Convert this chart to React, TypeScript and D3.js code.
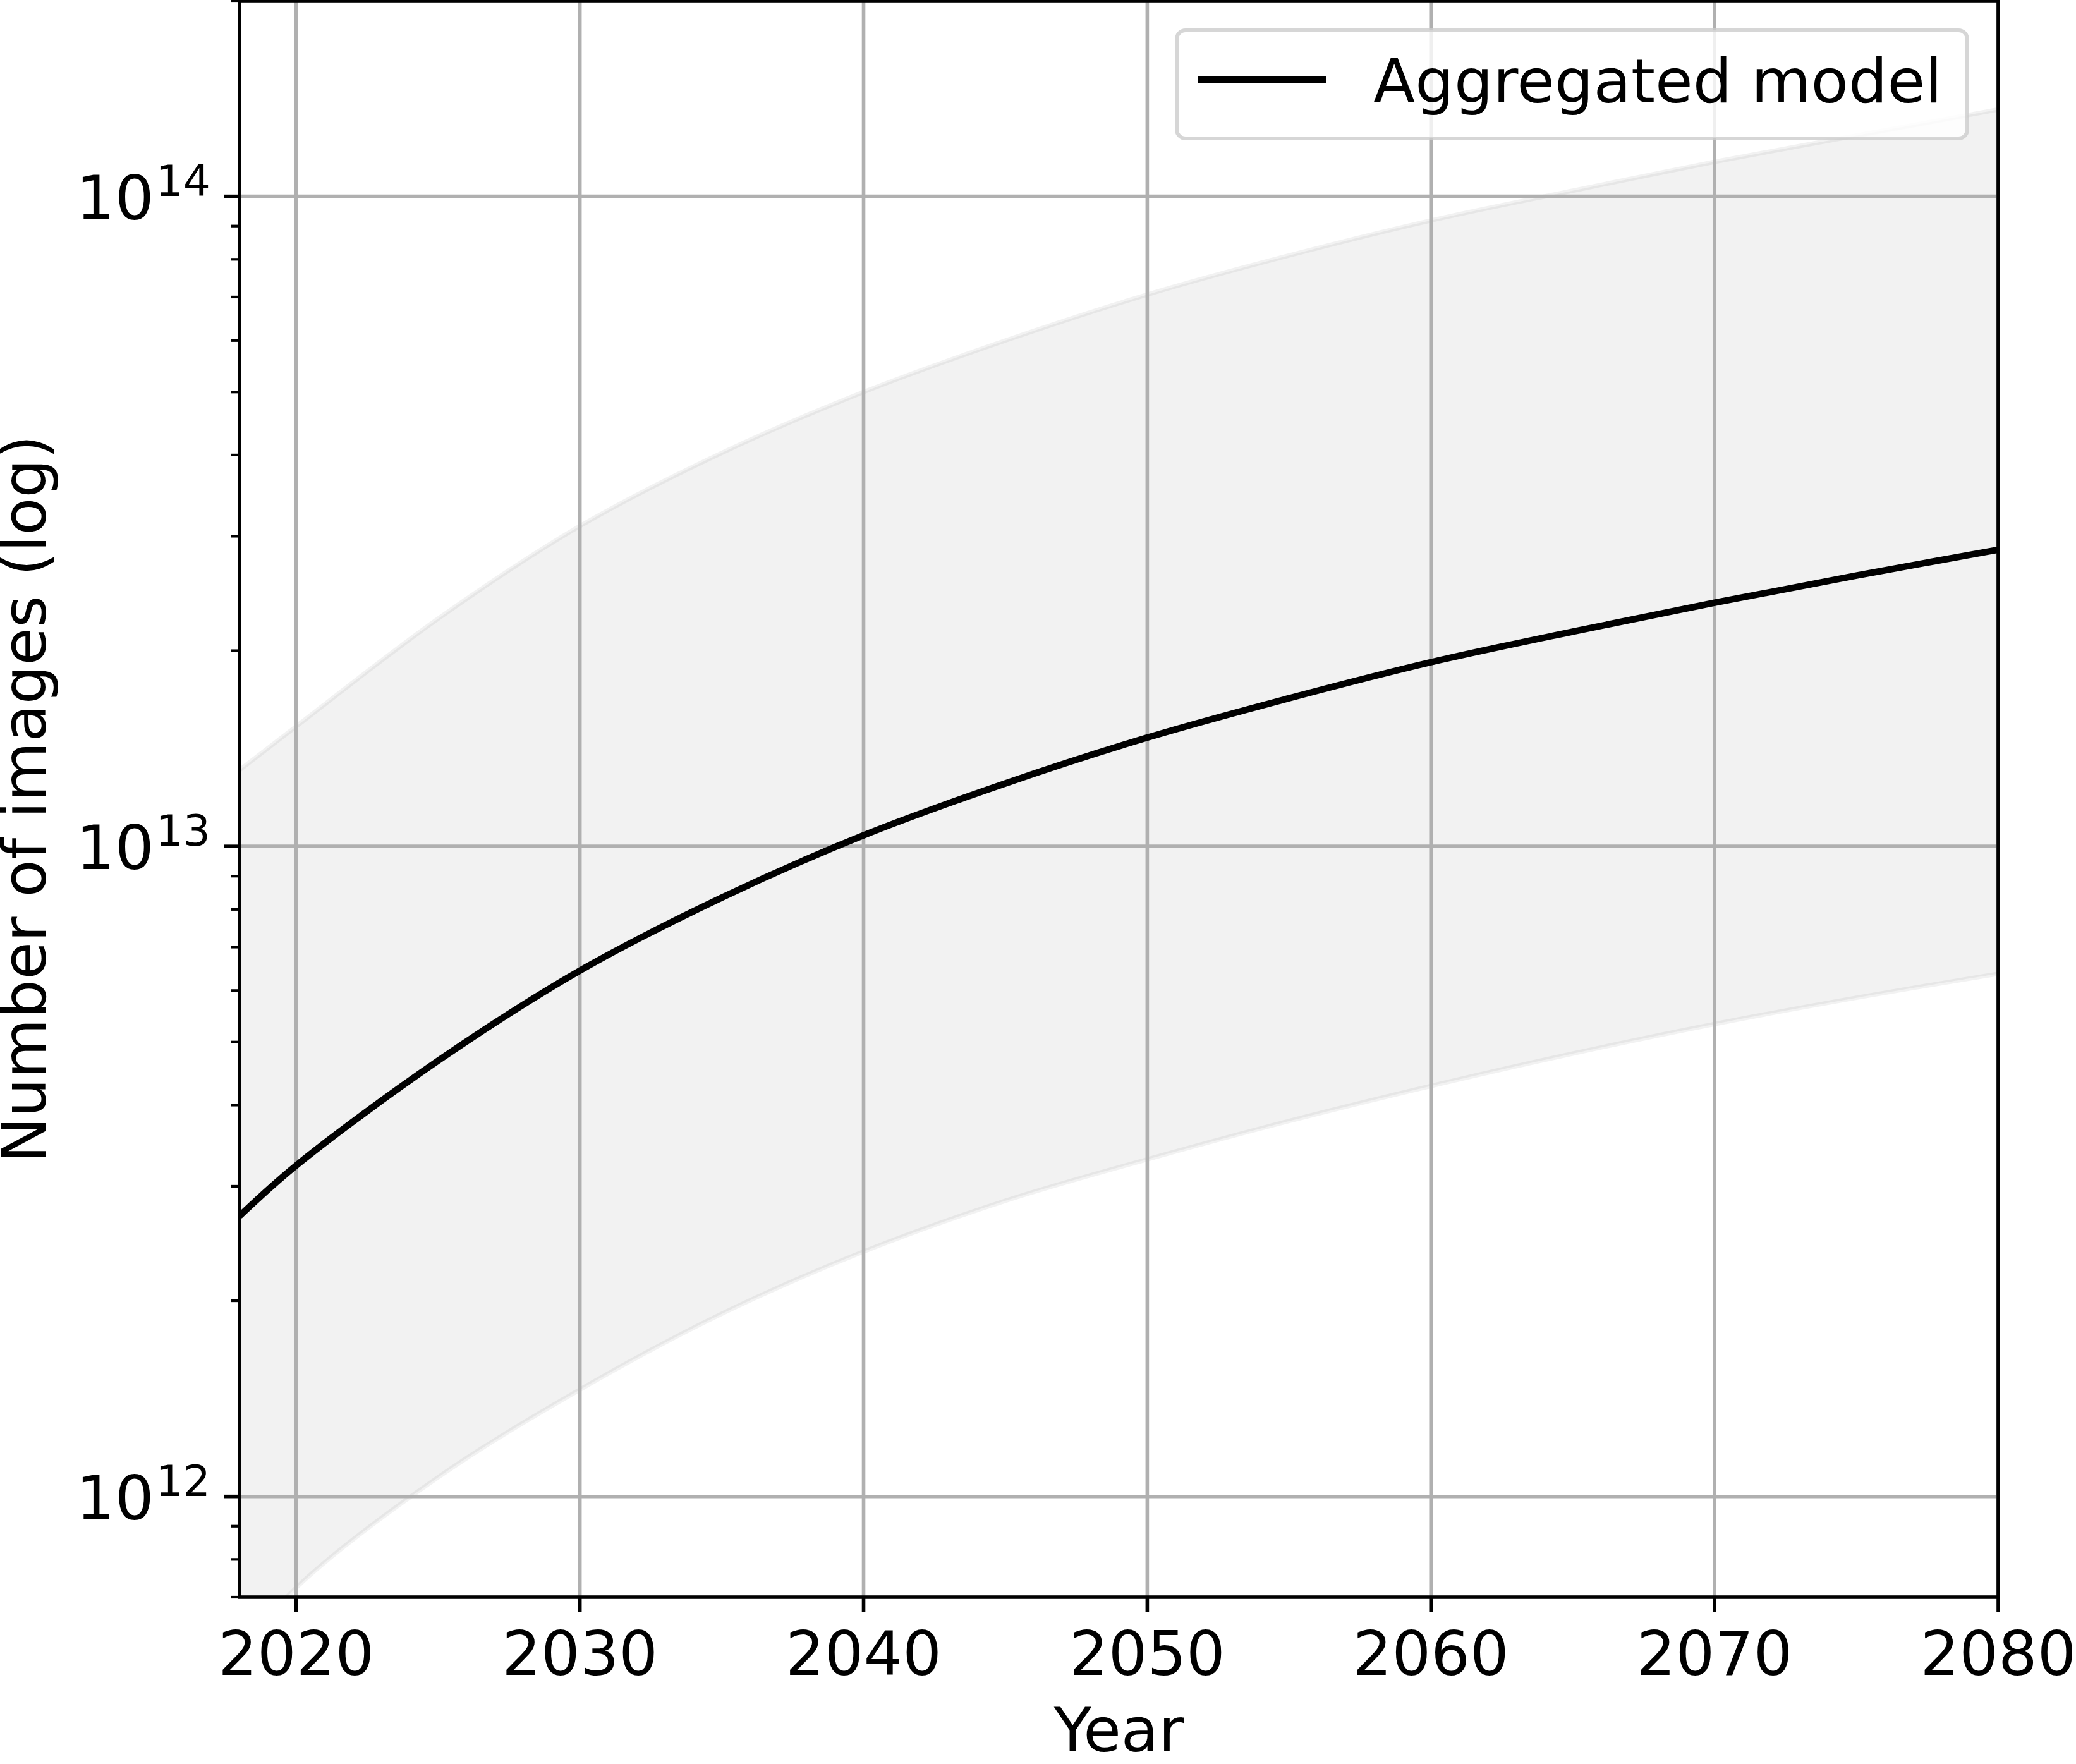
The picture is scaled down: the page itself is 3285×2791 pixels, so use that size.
import React from 'react';
import * as d3 from 'd3';

// values (log y)
const years = [2018, 2020, 2025, 2030, 2035, 2040, 2045, 2050, 2055, 2060, 2065, 2070, 2075, 2080];
const aggregated = [2.70e12, 3.23e12, 4.68e12, 6.44e12, 8.34e12, 1.04e13, 1.25e13, 1.47e13, 1.69e13, 1.92e13, 2.14e13, 2.37e13, 2.61e13, 2.86e13];
const upperBound = [1.31e13, 1.53e13, 2.24e13, 3.11e13, 4.03e13, 5.00e13, 6.00e13, 7.06e13, 8.11e13, 9.18e13, 1.02e14, 1.13e14, 1.24e14, 1.36e14];
const lowerBound = [5.75e11, 7.24e11, 1.07e12, 1.46e12, 1.91e12, 2.38e12, 2.85e12, 3.30e12, 3.78e12, 4.28e12, 4.80e12, 5.33e12, 5.85e12, 6.37e12];
const xTicks = [2020, 2030, 2040, 2050, 2060, 2070, 2080];
const yTicks = [1e12, 1e13, 1e14];

const W = 3285, H = 2791;
const margin = { top: 1, right: 123, bottom: 264, left: 379 };
const innerW = W - margin.left - margin.right;
const innerH = H - margin.top - margin.bottom;
const FONT = 'DejaVu Sans, sans-serif';
const FS = 97;

export default function App() {
  const x = d3.scaleLinear().domain([2018, 2080]).range([0, innerW]);
  const y = d3.scaleLog().domain([7e11, 2e14]).range([innerH, 0]);

  const rows = years.map((yr, i) => ({ yr, mid: aggregated[i], lo: lowerBound[i], hi: upperBound[i] }));
  const curve = d3.curveCatmullRom.alpha(0.5);
  const area = d3.area<any>().x(d => x(d.yr)).y0(d => y(d.lo)).y1(d => y(d.hi)).curve(curve);
  const line = d3.line<any>().x(d => x(d.yr)).y(d => y(d.mid)).curve(curve);
  const loLine = d3.line<any>().x(d => x(d.yr)).y(d => y(d.lo)).curve(curve);
  const hiLine = d3.line<any>().x(d => x(d.yr)).y(d => y(d.hi)).curve(curve);

  const minor: number[] = [];
  for (let e = 11; e <= 14; e++) {
    for (let m = 2; m <= 9; m++) {
      const v = m * Math.pow(10, e);
      if (v >= 7e11 && v <= 2e14) minor.push(v);
    }
  }

  const band = 'rgba(128,128,128,0.1)';

  return (
    <svg width={W} height={H} style={{ position: 'absolute', left: 0, top: 0, background: '#fff' }}
      fontFamily={FONT}>
      <defs>
        <clipPath id="plot">
          <rect x={0} y={0} width={innerW} height={innerH} />
        </clipPath>
      </defs>
      <g transform={`translate(${margin.left},${margin.top})`}>
        <g clipPath="url(#plot)">
          <path d={area(rows) || ''} fill={band} stroke="none" />
          <path d={loLine(rows) || ''} fill="none" stroke={band} strokeWidth={7} />
          <path d={hiLine(rows) || ''} fill="none" stroke={band} strokeWidth={7} />
          {xTicks.map(t => (
            <line key={'gx' + t} x1={x(t)} x2={x(t)} y1={0} y2={innerH} stroke="#b0b0b0" strokeWidth={5.6} />
          ))}
          {yTicks.map(t => (
            <line key={'gy' + t} x1={0} x2={innerW} y1={y(t)} y2={y(t)} stroke="#b0b0b0" strokeWidth={5.6} />
          ))}
          <path d={line(rows) || ''} fill="none" stroke="#000" strokeWidth={10.4} />
        </g>

        {/* spines */}
        <rect x={0} y={0} width={innerW} height={innerH} fill="none" stroke="#000" strokeWidth={5.6} />

        {/* x ticks */}
        {xTicks.map(t => (
          <g key={'xt' + t} transform={`translate(${x(t)},${innerH})`}>
            <line y1={0} y2={24} stroke="#000" strokeWidth={5.6} />
            <text y={123} textAnchor="middle" fontSize={FS}>{t}</text>
          </g>
        ))}

        {/* y ticks */}
        {minor.map(t => (
          <line key={'ym' + t} x1={-14} x2={0} y1={y(t)} y2={y(t)} stroke="#000" strokeWidth={4.2} />
        ))}
        {yTicks.map(t => (
          <g key={'yt' + t} transform={`translate(0,${y(t)})`}>
            <line x1={-24} x2={0} stroke="#000" strokeWidth={5.6} />
            <text x={-46} y={36} textAnchor="end" fontSize={FS}><tspan>10</tspan><tspan dx={3} dy={-37} fontSize={FS * 0.7}>{Math.round(Math.log10(t))}</tspan></text>
          </g>
        ))}

        <text x={innerW / 2} y={2771 - margin.top} textAnchor="middle" fontSize={FS}>Year</text>
        <text transform={`translate(${72 - margin.left},${innerH / 2}) rotate(-90)`} textAnchor="middle" fontSize={FS}>
          Number of images (log)
        </text>
      </g>

      {/* legend */}
      <g>
        <rect x={1862} y={48} width={1251} height={171} rx={14} fill="#fff" fillOpacity={0.8}
          stroke="#cccccc" strokeOpacity={0.8} strokeWidth={6} />
        <line x1={1895} x2={2099} y1={126} y2={126} stroke="#000" strokeWidth={10.4} />
        <text x={2173} y={162} fontSize={FS}>Aggregated model</text>
      </g>
    </svg>
  );
}
